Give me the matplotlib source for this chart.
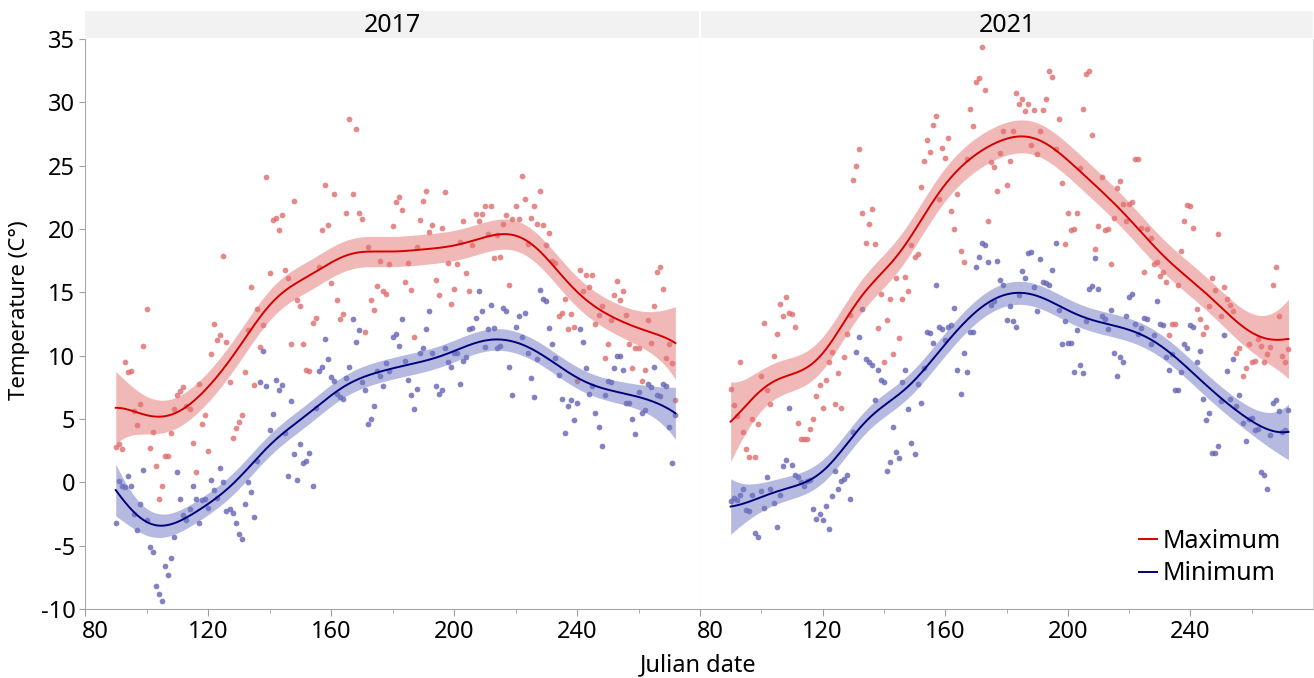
import numpy as np
import matplotlib
matplotlib.use("Agg")
import matplotlib.pyplot as plt
from matplotlib.lines import Line2D
from matplotlib.transforms import ScaledTranslation

plt.rcParams['font.family'] = ['Noto Sans', 'DejaVu Sans']
plt.rcParams['axes.unicode_minus'] = False

# Julian dates of the daily records
days = np.arange(90, 273)

# 2017 daily maximum / minimum temperature (C)
max17 = [2.8, 3.0, 2.6, 9.5, 8.7, 8.8, 5.6, 4.5, 6.2, 10.8,
         13.7, 2.7, 4.0, 1.3, -1.3, -0.3, 2.1, 2.1, 3.9, 5.8,
         6.9, 7.2, 7.5, 6.0, 5.8, 3.1, 0.8, 7.8, 4.6, 5.3,
         2.5, 10.1, 12.5, 11.2, 11.6, 17.9, 11.1, 7.9, 3.5, 4.3,
         4.8, 5.3, 8.7, 12.0, 15.4, 7.7, 13.7, 10.7, 12.4, 24.1,
         16.5, 20.7, 20.9, 19.9, 21.1, 16.8, 16.1, 10.9, 22.2, 14.4,
         13.9, 10.9, 8.9, 8.8, 12.6, 13.0, 17.0, 19.9, 23.5, 20.3,
         15.7, 22.8, 14.4, 12.9, 13.3, 21.3, 28.7, 22.8, 27.9, 21.3,
         20.8, 11.9, 18.6, 14.4, 13.6, 15.5, 17.5, 15.1, 14.9, 17.2,
         20.2, 22.1, 22.5, 21.5, 15.8, 17.3, 15.2, 11.5, 18.6, 20.7,
         22.2, 23.0, 19.8, 20.3, 16.0, 14.8, 20.1, 22.9, 17.3, 14.1,
         15.3, 17.2, 19.0, 20.6, 16.5, 15.1, 18.7, 21.2, 20.6, 21.2,
         21.8, 19.6, 21.8, 17.7, 19.5, 17.8, 20.4, 21.1, 15.6, 20.8,
         21.8, 20.8, 24.2, 22.4, 18.8, 20.9, 21.8, 20.4, 23.0, 20.3,
         18.7, 19.7, 17.5, 17.3, 13.1, 13.4, 14.5, 12.1, 13.3, 12.3,
         8.0, 16.8, 15.1, 16.4, 15.4, 16.4, 12.5, 13.2, 13.9, 9.8,
         10.9, 12.8, 14.8, 15.9, 14.4, 15.1, 13.2, 10.9, 9.0, 10.6,
         10.6, 8.0, 8.9, 12.8, 11.0, 13.9, 16.6, 17.0, 15.3, 9.8,
         10.9, 9.4, 6.5]
min17 = [-3.2, 0.1, -0.3, -0.4, 0.5, -0.3, -2.5, -3.8, -1.7, 1.0,
         -3.0, -5.1, -5.5, -8.2, -8.8, -9.4, -6.6, -7.3, -6.0, -4.3,
         0.8, -1.3, -2.6, -3.0, -2.1, -0.3, -1.3, -3.2, -1.4, -1.3,
         -2.0, 0.2, -0.6, -1.2, 1.1, 0.0, -2.3, -2.1, -2.4, -3.2,
         -4.1, -4.5, -1.7, 0.0, -0.8, -2.7, 1.7, 7.9, 10.4, 7.6,
         4.1, 5.4, 8.1, 7.3, 7.7, 3.9, 0.5, 6.4, 2.2, 0.2,
         3.0, 1.5, 1.7, 2.3, -0.3, 5.9, 8.8, 9.1, 11.3, 9.7,
         8.3, 8.0, 7.0, 6.7, 6.6, 8.2, 9.1, 12.9, 11.1, 12.0,
         7.9, 7.3, 4.6, 5.0, 6.0, 8.8, 8.4, 7.6, 9.4, 8.8,
         11.5, 11.7, 10.8, 12.9, 9.6, 8.1, 6.9, 5.8, 7.4, 10.2,
         10.6, 12.1, 13.5, 10.2, 7.6, 7.0, 7.3, 10.6, 9.5, 9.1,
         10.2, 10.2, 7.8, 9.6, 9.9, 12.1, 12.2, 13.0, 15.1, 13.5,
         10.7, 12.1, 14.0, 12.2, 10.6, 10.8, 13.8, 13.5, 9.1, 6.9,
         12.3, 13.1, 11.5, 13.4, 10.2, 8.2, 6.7, 9.7, 15.2, 14.5,
         14.3, 12.2, 10.9, 9.8, 8.5, 6.6, 3.9, 6.0, 6.5, 4.9,
         6.3, 12.1, 11.1, 9.0, 7.0, 7.6, 5.5, 4.4, 2.9, 6.9,
         8.0, 7.9, 9.0, 10.0, 10.0, 8.9, 6.3, 6.3, 5.0, 3.8,
         7.1, 5.5, 5.7, 7.8, 7.5, 9.1, 6.9, 6.8, 7.8, 7.6,
         4.4, 1.5, 5.3]

# 2021 daily maximum / minimum temperature (C)
max21 = [7.4, 6.1, 5.2, 9.5, 4.0, 2.6, 2.0, 5.0, 2.0, 4.6,
         8.4, 12.6, 7.3, 6.2, 10.0, 11.7, 14.1, 13.1, 14.6, 13.4,
         13.3, 12.3, 4.7, 3.4, 3.4, 3.4, 4.2, 5.0, 6.8, 7.7,
         5.9, 8.1, 9.5, 10.3, 6.2, 8.6, 5.9, 9.9, 11.7, 13.2,
         23.9, 25.0, 26.3, 21.3, 18.9, 20.4, 21.6, 18.8, 12.2, 14.9,
         9.5, 12.8, 14.5, 10.1, 16.1, 11.4, 14.5, 16.2, 15.1, 18.7,
         17.8, 18.0, 23.3, 25.4, 27.0, 26.1, 28.2, 28.9, 22.4, 26.4,
         25.6, 27.2, 21.4, 20.0, 22.8, 18.3, 17.4, 25.5, 29.5, 28.1,
         31.6, 31.9, 34.4, 31.0, 20.6, 25.3, 24.9, 23.0, 26.0, 27.7,
         23.5, 25.4, 27.7, 30.7, 29.9, 30.3, 29.3, 29.9, 26.6, 29.4,
         25.9, 27.7, 29.4, 30.3, 32.5, 32.0, 26.3, 28.7, 23.6, 18.8,
         21.3, 19.9, 20.0, 21.3, 24.8, 29.5, 32.2, 32.5, 27.4, 18.4,
         20.2, 24.1, 19.9, 20.0, 17.2, 20.9, 23.2, 23.8, 22.0, 20.6,
         22.0, 22.1, 25.5, 25.5, 20.1, 16.6, 20.0, 19.3, 17.2, 17.4,
         16.3, 16.6, 15.8, 11.6, 12.5, 12.5, 15.6, 18.3, 20.6, 21.9,
         21.8, 20.1, 13.7, 12.9, 11.7, 12.3, 13.9, 16.1, 15.2, 19.6,
         13.1, 15.4, 14.5, 14.0, 13.5, 10.2, 10.6, 8.4, 9.0, 10.9,
         9.5, 9.6, 11.3, 10.8, 9.5, 10.1, 10.7, 15.6, 17.0, 13.1,
         10.0, 9.5, 10.5]
min21 = [-1.5, -1.2, -1.4, -1.0, -0.5, -2.2, -2.3, -1.0, -4.0, -4.3,
         -0.7, -2.0, 0.4, -0.5, -1.6, -3.5, -1.0, 1.3, 1.8, 5.9,
         1.4, 0.6, 0.4, 0.0, -0.3, 0.1, 0.2, -2.1, -2.9, -2.5,
         -3.0, -1.9, -3.7, -1.1, 0.9, -0.5, 0.1, 0.3, 0.6, -1.3,
         4.0, 10.3, 11.5, 13.7, 9.7, 9.5, 9.3, 6.5, 8.9, 8.1,
         7.9, 0.9, 1.6, 4.4, 2.4, 1.9, 7.9, 8.9, 5.8, 3.1,
         2.2, 7.8, 6.3, 9.0, 11.9, 11.8, 11.0, 15.6, 12.3, 12.1,
         11.2, 12.3, 12.4, 13.8, 8.9, 7.0, 10.2, 8.7, 11.9, 11.9,
         17.0, 17.8, 18.9, 18.7, 17.4, 14.0, 14.3, 17.5, 16.0, 15.6,
         12.8, 13.9, 12.7, 12.3, 14.8, 16.7, 16.1, 18.1, 18.2, 15.4,
         13.5, 17.6, 15.8, 15.7, 15.6, 16.8, 18.9, 13.6, 10.9, 12.7,
         11.0, 11.0, 8.7, 12.0, 9.3, 8.6, 12.7, 15.3, 15.5, 17.7,
         15.3, 13.1, 12.9, 12.1, 13.6, 10.2, 8.4, 9.9, 9.5, 13.1,
         14.6, 14.9, 12.5, 11.7, 12.2, 13.0, 12.9, 10.9, 11.6, 14.3,
         12.5, 12.4, 9.9, 8.9, 10.1, 7.3, 7.3, 8.7, 10.9, 10.6,
         12.4, 12.3, 9.5, 10.4, 6.6, 4.9, 5.5, 2.3, 2.3, 2.9,
         6.4, 11.6, 8.8, 6.6, 9.7, 6.0, 6.9, 4.7, 3.3, 5.0,
         5.1, 4.1, 4.2, 0.8, 0.6, -0.5, 3.7, 6.3, 6.5, 5.6,
         4.0, 4.1, 5.7]

years = ['2017', '2021']
series = {'2017': (max17, min17), '2021': (max21, min21)}
x_ticks = [80, 120, 160, 200, 240]
y_ticks = [-10, -5, 0, 5, 10, 15, 20, 25, 30, 35]


def smooth(x, y, grid, h=10.0):
    # local linear kernel smoother with pointwise 95% band
    x = np.asarray(x, float)
    y = np.asarray(y, float)

    def fit_at(g):
        w = np.exp(-0.5 * ((x - g) / h) ** 2)
        X = np.column_stack([np.ones_like(x), x - g])
        A = X.T @ (w[:, None] * X)
        Ai = np.linalg.inv(A)
        beta = Ai @ (X.T @ (w * y))
        B = X.T @ ((w ** 2)[:, None] * X)
        v = (Ai @ B @ Ai)[0, 0]
        return beta[0], v

    resid = y - np.array([fit_at(g)[0] for g in x])
    sigma = np.std(resid)
    res = np.array([fit_at(g) for g in grid])
    f = res[:, 0]
    se = sigma * np.sqrt(res[:, 1])
    return f, f - 1.96 * se, f + 1.96 * se


W, H = 1314, 678
fig = plt.figure(figsize=(W / 100, H / 100), dpi=100)

red_pt, red_ln, red_bd = '#df6c6c', '#d40000', '#e57373'
blue_pt, blue_ln, blue_bd = '#6464b4', '#00007a', '#6f77c4'

panels = [(85, 615), (700, 613)]
grid = np.linspace(days.min(), days.max(), 300)
axes = []
for i, yr in enumerate(years):
    left, width = panels[i]
    ax = fig.add_axes([left / W, 1 - 609 / H, width / W, 570 / H])
    axes.append(ax)
    vmax, vmin = series[yr]
    for vals, pc, lc, bc in [(vmax, red_pt, red_ln, red_bd),
                             (vmin, blue_pt, blue_ln, blue_bd)]:
        ax.scatter(days, vals, s=17, color=pc, alpha=0.8, lw=0, zorder=2)
        f, lo, hi = smooth(days, vals, grid)
        ax.fill_between(grid, lo, hi, color=bc, alpha=0.5, lw=0, zorder=3)
        ax.plot(grid, f, color=lc, lw=1.4, zorder=4)

    ax.set_xlim(80, 280)
    ax.set_ylim(-10, 35)
    ax.set_xticks(x_ticks)
    ax.set_xticks(np.arange(100, 280, 40), minor=True)
    ax.set_yticks(y_ticks)
    ax.tick_params(axis='x', which='major', length=5, color='#a0a0a0',
                   labelsize=17, pad=3)
    ax.tick_params(axis='x', which='minor', length=3, color='#a0a0a0')
    ax.spines['top'].set_visible(False)
    ax.spines['bottom'].set_color('#a6a6a6')
    ax.spines['right'].set_color('#dcdcdc')
    if i == 0:
        ax.spines['left'].set_color('#a6a6a6')
        ax.tick_params(axis='y', length=4, color='#a0a0a0', labelsize=17, pad=3)
    else:
        ax.spines['left'].set_visible(False)
        ax.tick_params(axis='y', left=False, labelleft=False)
    # first tick label sits to the right of the panel edge
    lab = ax.get_xticklabels()[0]
    lab.set_transform(lab.get_transform() + ScaledTranslation(0.10, 0, fig.dpi_scale_trans))

    # facet header strip
    sx0 = left if i == 0 else left + 1
    sw = width - 1
    sax = fig.add_axes([sx0 / W, 1 - 38 / H, sw / W, 27 / H])
    sax.set_facecolor('#f2f2f2')
    for sp in sax.spines.values():
        sp.set_visible(False)
    sax.set_xticks([])
    sax.set_yticks([])
    sax.text(0.5, 0.45, yr, ha='center', va='center', fontsize=18,
             transform=sax.transAxes)

handles = [Line2D([], [], color=red_ln, lw=1.4),
           Line2D([], [], color=blue_ln, lw=1.4)]
axes[1].legend(handles, ['Maximum', 'Minimum'], loc='lower right',
               bbox_to_anchor=(0.985, 0.0), frameon=False, fontsize=18,
               handlelength=0.7, handletextpad=0.25, labelspacing=0.3)

fig.text(20 / W, 1 - 310 / H, 'Temperature (C°)', rotation=90,
         ha='center', va='center', fontsize=16)
fig.text(698 / W, 1 - 665 / H, 'Julian date', ha='center', va='center',
         fontsize=17)

fig.savefig('out.png', dpi=100)
